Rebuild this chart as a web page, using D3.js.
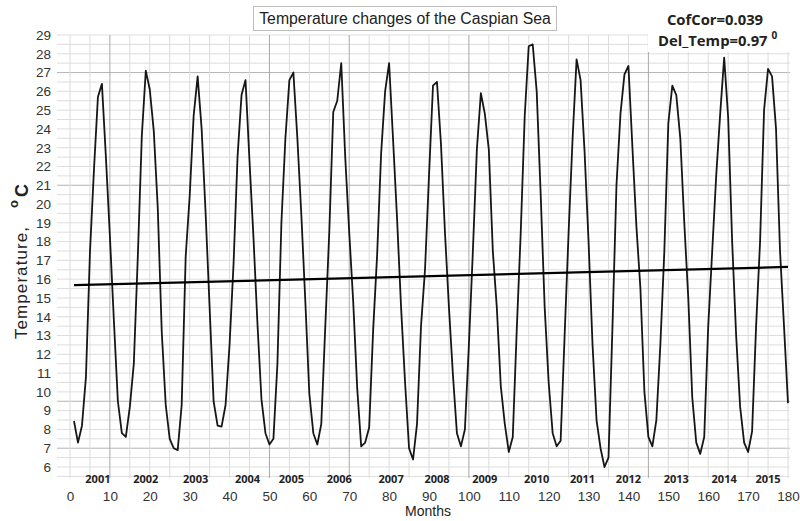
<!DOCTYPE html>
<html>
<head>
<meta charset="utf-8">
<script src="https://cdn.jsdelivr.net/npm/d3@7/dist/d3.min.js"></script>
<style>
	body { margin: 0; background: #fff; }
	text { font-family: Arial, "Liberation Sans", sans-serif; }
</style>
</head>
<body>
<div id="chart"></div>
<script>
// monthly mean temperature, one array per year (Jan..Dec)
var t2001 = [8.45, 7.3, 8.2, 10.8, 17.4, 21.8, 25.7, 26.4, 22.5, 18.3, 13.8, 9.5];
var t2002 = [7.8, 7.6, 9.2, 11.5, 17.2, 23.6, 27.1, 26.1, 23.9, 19.8, 13.2, 9.3];
var t2003 = [7.5, 7.0, 6.9, 9.3, 17.2, 20.4, 24.7, 26.8, 24.0, 19.5, 14.5, 9.5];
var t2004 = [8.2, 8.15, 9.3, 12.5, 16.8, 22.5, 25.8, 26.6, 22.3, 18.2, 13.6, 9.6];
var t2005 = [7.8, 7.2, 7.5, 11.5, 19.0, 23.5, 26.6, 27.0, 23.5, 19.4, 14.8, 9.9];
var t2006 = [7.8, 7.2, 8.3, 13.5, 18.5, 24.9, 25.5, 27.5, 22.5, 18.5, 14.8, 10.2];
var t2007 = [7.1, 7.3, 8.1, 13.3, 17.3, 22.7, 26.0, 27.5, 23.4, 19.2, 14.5, 10.5];
var t2008 = [7.0, 6.4, 8.3, 13.5, 16.5, 21.5, 26.3, 26.5, 23.2, 18.5, 14.5, 10.9];
var t2009 = [7.8, 7.1, 8.0, 12.5, 17.5, 22.9, 25.9, 24.8, 22.9, 17.5, 14.5, 10.3];
var t2010 = [8.3, 6.8, 7.6, 13.3, 18.5, 24.7, 28.4, 28.5, 26.0, 20.5, 14.5, 10.5];
var t2011 = [7.8, 7.1, 7.4, 13.0, 18.5, 23.5, 27.7, 26.6, 22.8, 18.0, 12.5, 8.5];
var t2012 = [7.0, 6.0, 6.5, 13.5, 21.0, 24.8, 26.9, 27.35, 23.0, 18.8, 15.5, 10.0];
var t2013 = [7.6, 7.1, 8.5, 12.5, 17.5, 24.3, 26.3, 25.8, 23.5, 19.0, 15.0, 9.7];
var t2014 = [7.3, 6.7, 7.6, 13.5, 17.5, 21.5, 24.8, 27.8, 24.6, 18.0, 13.0, 9.2];
var t2015 = [7.3, 6.8, 7.9, 13.5, 18.0, 25.0, 27.2, 26.8, 24.0, 17.5, 13.5, 9.4];

var years = ["2001","2002","2003","2004","2005","2006","2007","2008","2009","2010","2011","2012","2013","2014","2015"];
var yearLabelMonth = [7, 19, 31.5, 44.5, 55.5, 67.5, 80.5, 92, 104, 117, 128.5, 140, 152, 164, 175];
var xTicks = [0, 10, 20, 30, 40, 50, 60, 70, 80, 90, 100, 110, 120, 130, 140, 150, 160, 170, 180];
var yTicks = [6, 7, 8, 9, 10, 11, 12, 13, 14, 15, 16, 17, 18, 19, 20, 21, 22, 23, 24, 25, 26, 27, 28, 29];
var trendMonths = [1, 180];
var trendValues = [15.68, 16.65];

var temps = [].concat(t2001, t2002, t2003, t2004, t2005, t2006, t2007, t2008,
	t2009, t2010, t2011, t2012, t2013, t2014, t2015);
var series = temps.map(function(v, i) { return { m: i + 1, v: v }; });

var width = 800, height = 521;

var svg = d3.select("#chart")
	.append("svg")
	.attr("width", width)
	.attr("height", height);

var x = d3.scaleLinear().domain([0, 180]).range([70, 788]);
var y = d3.scaleLinear().domain([6, 29]).range([467, 35]);

// grid
var hLines = d3.range(11, 59).map(function(k) { return k / 2; });
var darkH = [7, 9.5, 21, 27];
svg.append("g").selectAll("line")
	.data(hLines)
	.enter().append("line")
	.attr("x1", 57).attr("x2", 790)
	.attr("y1", function(d) { return y(d); })
	.attr("y2", function(d) { return y(d); })
	.attr("stroke", function(d) { return darkH.indexOf(d) >= 0 ? "#b4b4b4" : "#dedede"; })
	.attr("stroke-width", 1);

var vLines = d3.range(0, 37).map(function(k) { return k * 5; });
var darkV = [10, 50, 70, 100, 145];
svg.append("g").selectAll("line")
	.data(vLines)
	.enter().append("line")
	.attr("x1", function(d) { return x(d); })
	.attr("x2", function(d) { return x(d); })
	.attr("y1", 35).attr("y2", 478)
	.attr("stroke", function(d) { return darkV.indexOf(d) >= 0 ? "#a8a8a8" : "#dcdcdc"; })
	.attr("stroke-width", 1);

// white patch behind the stats text
svg.append("rect")
	.attr("x", 648).attr("y", 0)
	.attr("width", 152).attr("height", 52)
	.attr("fill", "#fff");

// axes labels (no axis lines in the original)
var xAxis = d3.axisBottom(x).tickValues(xTicks).tickSize(0).tickPadding(0);
var gx = svg.append("g")
	.attr("transform", "translate(0,491)")
	.call(xAxis);
gx.select(".domain").remove();
gx.selectAll("text")
	.attr("font-size", 13.5)
	.attr("fill", "#333")
	.style("font-family", "Arial, 'Liberation Sans', sans-serif");

var yAxis = d3.axisLeft(y).tickValues(yTicks).tickSize(0).tickPadding(0);
var gy = svg.append("g")
	.attr("transform", "translate(51,0)")
	.call(yAxis);
gy.select(".domain").remove();
gy.selectAll("text")
	.attr("font-size", 13.5)
	.attr("fill", "#333")
	.style("font-family", "Arial, 'Liberation Sans', sans-serif");

// year labels
svg.append("g").selectAll("text")
	.data(years)
	.enter().append("text")
	.attr("x", function(d, i) { return x(yearLabelMonth[i]); })
	.attr("y", 483)
	.attr("text-anchor", "middle")
	.attr("font-size", 11)
	.attr("font-weight", "bold")
	.style("font-family", "'Open Sans', sans-serif")
	.attr("fill", "#222")
	.text(function(d) { return d; });

// temperature line
var line = d3.line()
	.x(function(d) { return x(d.m); })
	.y(function(d) { return y(d.v); });

svg.append("path")
	.datum(series)
	.attr("d", line)
	.attr("fill", "none")
	.attr("stroke", "#161616")
	.attr("stroke-width", 1.8)
	.attr("stroke-linejoin", "round");

// trend line
svg.append("line")
	.attr("x1", x(trendMonths[0])).attr("y1", y(trendValues[0]))
	.attr("x2", x(trendMonths[1])).attr("y2", y(trendValues[1]))
	.attr("stroke", "#000")
	.attr("stroke-width", 2.2);

// title box
svg.append("rect")
	.attr("x", 253.5).attr("y", 6.5)
	.attr("width", 303).attr("height", 24)
	.attr("fill", "#fff")
	.attr("stroke", "#bdbdbd");
svg.append("text")
	.attr("x", 405).attr("y", 24)
	.attr("text-anchor", "middle")
	.attr("font-size", 15.8)
	.attr("fill", "#222")
	.text("Temperature changes of the Caspian Sea");

// stats
svg.append("text")
	.attr("x", 715).attr("y", 25)
	.attr("text-anchor", "middle")
	.attr("font-size", 14.8)
	.attr("font-weight", "bold")
	.style("font-family", "'Open Sans', sans-serif")
	.attr("fill", "#222")
	.text("CofCor=0.039");
var st = svg.append("text")
	.attr("x", 658).attr("y", 46)
	.attr("font-size", 14.8)
	.attr("font-weight", "bold")
	.style("font-family", "'Open Sans', sans-serif")
	.attr("fill", "#222");
st.append("tspan").text("Del_Temp=0.97 ");
st.append("tspan").attr("dy", -7).attr("font-size", 10).text("0");

// y title
svg.append("text")
	.attr("transform", "translate(27,339) rotate(-90)")
	.attr("font-size", 17)
	.attr("textLength", 112)
	.attr("lengthAdjust", "spacing")
	.attr("fill", "#222")
	.text("Temperature,");
svg.append("text")
	.attr("transform", "translate(18,208) rotate(-90)")
	.attr("font-size", 13)
	.attr("font-weight", "bold")
	.attr("fill", "#222")
	.text("o");
svg.append("text")
	.attr("transform", "translate(28,197) rotate(-90)")
	.attr("font-size", 18)
	.attr("font-weight", "bold")
	.attr("fill", "#222")
	.text("C");

// x title
svg.append("text")
	.attr("x", 428).attr("y", 516)
	.attr("text-anchor", "middle")
	.attr("font-size", 14)
	.attr("fill", "#222")
	.text("Months");
</script>
</body>
</html>
